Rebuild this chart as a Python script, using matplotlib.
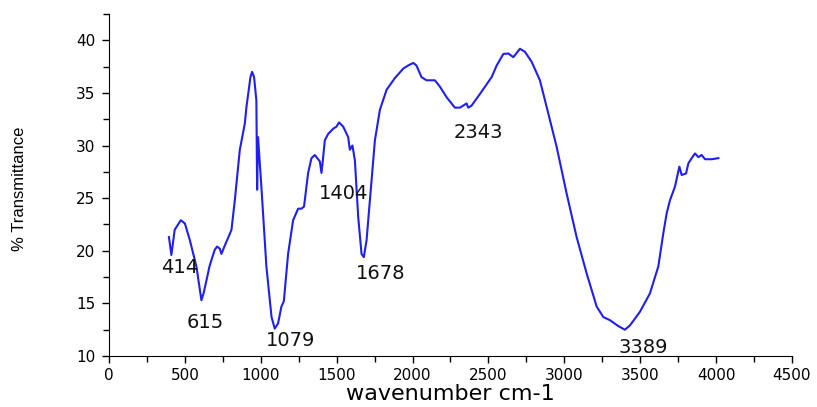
import matplotlib.pyplot as plt
from matplotlib.ticker import MultipleLocator

# FTIR spectrum
wavenumber = [395, 411, 433, 473, 500, 533, 576, 609, 624, 653, 660, 668, 697, 712,
              730, 741, 763, 796, 807, 829, 862, 895, 906, 932, 943, 956, 971, 976,
              982, 989, 1004, 1037, 1071, 1092, 1114, 1136, 1152, 1180, 1213, 1246,
              1268, 1285, 1312, 1334, 1356, 1389, 1400, 1407, 1422, 1444, 1477, 1499,
              1516, 1543, 1576, 1587, 1604, 1620, 1642, 1664, 1679, 1697, 1719, 1752,
              1785, 1829, 1883, 1938, 1970, 2005, 2026, 2059, 2092, 2147, 2180, 2224,
              2279, 2312, 2356, 2367, 2389, 2444, 2521, 2554, 2598, 2631, 2664, 2708,
              2741, 2785, 2839, 2883, 2949, 3015, 3081, 3147, 3213, 3257, 3301, 3355,
              3399, 3432, 3498, 3564, 3619, 3652, 3674, 3696, 3729, 3758, 3773, 3802,
              3817, 3839, 3861, 3883, 3905, 3927, 3971, 4015]
transmittance = [21.3, 19.6, 22.0, 22.9, 22.6, 21.0, 18.5, 15.3, 16.0, 17.9, 18.4, 18.8,
                 20.1, 20.4, 20.2, 19.7, 20.5, 21.6, 22.0, 24.8, 29.6, 32.1, 33.7, 36.5,
                 37.0, 36.5, 34.3, 25.8, 30.8, 29.3, 26.1, 18.5, 13.7, 12.6, 13.1, 14.7,
                 15.2, 19.7, 22.9, 24.0, 24.0, 24.2, 27.4, 28.8, 29.1, 28.5, 27.4, 28.3,
                 30.5, 31.1, 31.6, 31.8, 32.2, 31.8, 30.8, 29.6, 30.0, 28.6, 23.2, 19.7,
                 19.4, 21.0, 24.8, 30.5, 33.4, 35.3, 36.4, 37.3, 37.6, 37.85, 37.6, 36.5,
                 36.2, 36.2, 35.6, 34.6, 33.6, 33.6, 34.0, 33.6, 33.8, 34.9, 36.5, 37.6,
                 38.7, 38.75, 38.4, 39.2, 38.9, 37.95, 36.2, 33.7, 29.9, 25.45, 21.3,
                 17.85, 14.7, 13.7, 13.4, 12.85, 12.5, 12.9, 14.2, 15.95, 18.5, 21.65,
                 23.55, 24.8, 26.1, 28.0, 27.2, 27.35, 28.3, 28.8, 29.25, 28.9, 29.1,
                 28.7, 28.7, 28.8]

peak_labels = ["414", "615", "1079", "1404", "1678", "2343", "3389"]
label_x = [466, 632, 1199, 1545, 1789, 2431, 3521]
label_y = [18.4, 13.2, 11.5, 25.4, 17.8, 31.2, 10.8]

plt.rcParams['font.family'] = ['DejaVu Sans']

fig = plt.figure(figsize=(8.17, 4.07), dpi=100)
ax = fig.add_axes([0.1334, 0.1253, 0.836, 0.8403])

ax.plot(wavenumber, transmittance, color='#1f1ff0', linewidth=1.5)

for lab, lx, ly in zip(peak_labels, label_x, label_y):
    ax.text(lx, ly, lab, fontsize=14, ha='center', va='center', color='#111111')

ax.set_xlim(0, 4500)
ax.set_ylim(10, 42.5)
ax.xaxis.set_major_locator(MultipleLocator(500))
ax.xaxis.set_minor_locator(MultipleLocator(250))
ax.yaxis.set_major_locator(MultipleLocator(5))
ax.yaxis.set_minor_locator(MultipleLocator(2.5))
ax.tick_params(which='major', direction='out', length=5, width=1, labelsize=11)
ax.tick_params(which='minor', direction='out', length=4, width=1)
ax.tick_params(axis='y', pad=5)

ax.spines['top'].set_visible(False)
ax.spines['right'].set_visible(False)

ax.set_xlabel("wavenumber cm-1", fontsize=16, labelpad=1)
ax.set_ylabel("% Transmittance", fontsize=12, family=['Liberation Sans', 'DejaVu Sans'])
ax.yaxis.set_label_coords(-0.12, 0.49)

plt.savefig("out.png", dpi=100)
